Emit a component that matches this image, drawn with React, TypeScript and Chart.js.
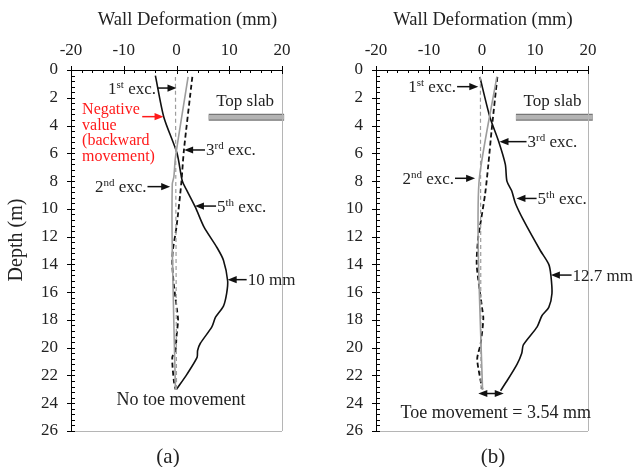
import React, { useEffect, useRef } from 'react';
import { Chart, registerables } from 'chart.js';
Chart.register(...registerables);

const FONT = '"Liberation Serif", "Times New Roman", serif';

// ---- axis ticks ----
const X_TICKS = [-20, -10, 0, 10, 20];
const DEPTH_TICKS = [0, 2, 4, 6, 8, 10, 12, 14, 16, 18, 20, 22, 24, 26];

// ---- panel (a) ----
const A_1ST_DEPTH = [0.5, 23.0];
const A_1ST_DEF = [-0.2, 0.0];
const A_2ND_DEPTH = [0.5, 6.3, 7.7, 8.2, 13.0, 23.0];
const A_2ND_DEF = [2.2, -0.2, -0.5, -0.8, -0.8, -0.2];
const A_3RD_DEPTH = [0.5, 5.8, 8.2, 11.3, 13.0, 14.0, 15.5, 17.3, 18.0, 19.2, 20.2, 20.7, 22.4, 23.0];
const A_3RD_DEF = [3.0, 1.4, 0.9, 0.0, -0.7, -0.8, -0.5, 0.1, 0.3, 0.0, -0.2, -0.8, -0.5, -0.2];
const A_5TH_DEPTH = [0.4, 3.4, 6.0, 8.0, 8.7, 9.9, 11.3, 12.8, 13.7, 15.2, 16.1, 17.0, 17.8, 18.5, 19.7, 20.2, 20.7, 21.9, 23.0];
const A_5TH_DEF = [-4.0, -2.4, 0.1, 1.1, 2.0, 3.6, 5.2, 7.7, 8.9, 9.7, 9.5, 8.9, 7.4, 6.7, 4.5, 4.0, 3.9, 2.0, 0.0];
const A_SLAB_X = [6.1, 20.4];

// ---- panel (b) ----
const B_1ST_DEPTH = [0.5, 23.0];
const B_1ST_DEF = [-0.3, -0.2];
const B_2ND_DEPTH = [0.5, 7.8, 13.0, 23.0];
const B_2ND_DEF = [2.8, -0.5, -0.7, 0.1];
const B_3RD_DEPTH = [0.5, 4.4, 6.8, 8.9, 11.3, 12.0, 14.0, 17.1, 17.9, 19.7, 20.8, 22.4, 23.0];
const B_3RD_DEF = [2.9, 1.8, 1.2, 0.6, -0.4, -0.7, -1.0, 0.0, 0.25, -0.25, -0.9, -0.25, 0.1];
const B_5TH_DEPTH = [0.5, 3.4, 5.1, 6.8, 8.0, 8.7, 9.6, 10.8, 13.0, 14.0, 14.8, 16.1, 17.1, 17.7, 18.5, 19.8, 20.4, 21.2, 22.4, 23.1];
const B_5TH_DEF = [-0.4, 1.5, 3.1, 4.4, 4.7, 5.6, 6.3, 7.8, 11.0, 12.6, 13.0, 13.2, 12.6, 11.3, 10.4, 7.8, 7.5, 6.6, 4.7, 3.5];
const B_SLAB_X = [6.4, 20.9];

const SLAB_DEPTH = 3.4;

const GRAY = '#9d9d9d';
const RED = '#ff1a1a';

type Ann =
  | { kind: 'arrow'; tip: [number, number]; tailX: number; color?: string; label?: string; ord?: string; sup?: string; side?: 'left' | 'right' }
  | { kind: 'double'; from: [number, number]; toX: number }
  | { kind: 'text'; at: [number, number]; lines: string[]; color?: string; size: number; align: CanvasTextAlign; lh?: number };

const A_ANN: Ann[] = [
  { kind: 'arrow', tip: [0, 1.3], tailX: -3.7, ord: '1', sup: 'st', side: 'left' },
  { kind: 'arrow', tip: [-2.45, 3.36], tailX: -6.5, color: RED },
  { kind: 'text', at: [-17.9, 2.9], lines: ['Negative', 'value', '(backward', 'movement)'], color: RED, size: 16, align: 'left', lh: 15.5 },
  { kind: 'arrow', tip: [1.45, 5.76], tailX: 5.4, ord: '3', sup: 'rd', side: 'right' },
  { kind: 'arrow', tip: [-1.2, 8.4], tailX: -5.5, ord: '2', sup: 'nd', side: 'left' },
  { kind: 'arrow', tip: [3.5, 9.8], tailX: 7.5, ord: '5', sup: 'th', side: 'right' },
  { kind: 'arrow', tip: [9.7, 15.1], tailX: 13.3, label: '10 mm', side: 'right' },
  { kind: 'text', at: [13.0, 2.28], lines: ['Top slab'], size: 17, align: 'center' },
  { kind: 'text', at: [0.85, 23.8], lines: ['No toe movement'], size: 18, align: 'center' },
];

const B_ANN: Ann[] = [
  { kind: 'arrow', tip: [-0.7, 1.2], tailX: -4.7, ord: '1', sup: 'st', side: 'left' },
  { kind: 'arrow', tip: [3.3, 5.16], tailX: 8.4, ord: '3', sup: 'rd', side: 'right' },
  { kind: 'arrow', tip: [-1.3, 7.8], tailX: -5.1, ord: '2', sup: 'nd', side: 'left' },
  { kind: 'arrow', tip: [6.5, 9.25], tailX: 10.3, ord: '5', sup: 'th', side: 'right' },
  { kind: 'arrow', tip: [13.0, 14.77], tailX: 16.9, label: '12.7 mm', side: 'right' },
  { kind: 'double', from: [-0.7, 23.3], toX: 4.1 },
  { kind: 'text', at: [13.3, 2.28], lines: ['Top slab'], size: 17, align: 'center' },
  { kind: 'text', at: [2.6, 24.7], lines: ['Toe movement = 3.54 mm'], size: 18, align: 'center' },
];

function mk(depth: number[], def: number[]) {
  return depth.map((d, i) => ({ x: def[i], y: d }));
}

function head(ctx: CanvasRenderingContext2D, tx: number, ty: number, dir: number, color: string) {
  const L = 9, H = 3.6;
  ctx.fillStyle = color;
  ctx.beginPath();
  ctx.moveTo(tx, ty);
  ctx.lineTo(tx - dir * L, ty - H);
  ctx.lineTo(tx - dir * L, ty + H);
  ctx.closePath();
  ctx.fill();
}

function makePlugin(cfg: any) {
  return {
    id: 'decor',
    afterDraw(chart: any) {
      const ctx: CanvasRenderingContext2D = chart.ctx;
      const xs = chart.scales.x, ys = chart.scales.y;
      const ca = chart.chartArea;
      ctx.save();
      // right & bottom light borders
      ctx.strokeStyle = '#b5b5b5';
      ctx.lineWidth = 1;
      ctx.beginPath();
      ctx.moveTo(Math.round(ca.right) + 0.5, ca.top);
      ctx.lineTo(Math.round(ca.right) + 0.5, ca.bottom);
      ctx.moveTo(ca.left, Math.round(ca.bottom) + 0.5);
      ctx.lineTo(ca.right, Math.round(ca.bottom) + 0.5);
      ctx.stroke();
      // tick marks
      ctx.strokeStyle = '#000';
      ctx.lineWidth = 1;
      ctx.beginPath();
      for (let v = -20; v <= 20; v += 2) {
        const px = Math.round(xs.getPixelForValue(v)) + 0.5;
        const major = X_TICKS.includes(v);
        ctx.moveTo(px, ca.top - (major ? 4 : 0));
        ctx.lineTo(px, ca.top + (major ? 4 : 3));
      }
      for (let i = 0; i <= 65; i++) {
        const v = i * 0.4;
        const py = Math.round(ys.getPixelForValue(v)) + 0.5;
        const major = i % 5 === 0;
        ctx.moveTo(ca.left - (major ? 4 : 0), py);
        ctx.lineTo(ca.left + 4, py);
      }
      ctx.stroke();
      // titles
      ctx.fillStyle = '#222';
      ctx.font = `18.5px ${FONT}`;
      ctx.textAlign = 'center';
      ctx.textBaseline = 'middle';
      ctx.fillText('Wall Deformation (mm)', (ca.left + ca.right) / 2 + cfg.titleDx, 20);
      ctx.font = `21px ${FONT}`;
      ctx.fillText(cfg.panel, cfg.panelX, 457);
      if (cfg.ylabel) {
        ctx.save();
        ctx.translate(17, 240);
        ctx.rotate(-Math.PI / 2);
        ctx.font = `20px ${FONT}`;
        ctx.fillText('Depth (m)', 0, 0);
        ctx.restore();
      }
      // annotations
      for (const a of cfg.ann as Ann[]) {
        if (a.kind === 'arrow') {
          const color = a.color || '#111';
          const tx = xs.getPixelForValue(a.tip[0]);
          const ty = ys.getPixelForValue(a.tip[1]);
          const sx = xs.getPixelForValue(a.tailX);
          const dir = tx > sx ? 1 : -1;
          ctx.strokeStyle = color;
          ctx.lineWidth = 1.5;
          ctx.beginPath();
          ctx.moveTo(sx, ty);
          ctx.lineTo(tx - dir * 8, ty);
          ctx.stroke();
          head(ctx, tx, ty, dir, color);
          ctx.fillStyle = '#222';
          ctx.textBaseline = 'alphabetic';
          ctx.textAlign = 'left';
          const base = ty + 5.5;
          if (a.ord) {
            ctx.font = `17px ${FONT}`;
            const w1 = ctx.measureText(a.ord).width;
            const w3 = ctx.measureText(' exc.').width;
            ctx.font = `11px ${FONT}`;
            const w2 = ctx.measureText(a.sup!).width;
            const total = w1 + w2 + w3;
            const x0 = a.side === 'left' ? sx - 1 - total : sx + 1;
            ctx.font = `17px ${FONT}`;
            ctx.fillText(a.ord, x0, base);
            ctx.font = `11px ${FONT}`;
            ctx.fillText(a.sup!, x0 + w1, base - 6);
            ctx.font = `17px ${FONT}`;
            ctx.fillText(' exc.', x0 + w1 + w2, base);
          } else if (a.label) {
            ctx.font = `17px ${FONT}`;
            ctx.fillText(a.label, sx + 1, base);
          }
        } else if (a.kind === 'double') {
          const x1 = xs.getPixelForValue(a.from[0]);
          const x2 = xs.getPixelForValue(a.toX);
          const y = ys.getPixelForValue(a.from[1]);
          ctx.strokeStyle = '#111';
          ctx.lineWidth = 1.5;
          ctx.beginPath();
          ctx.moveTo(x1 + 8, y);
          ctx.lineTo(x2 - 8, y);
          ctx.stroke();
          head(ctx, x1, y, -1, '#111');
          head(ctx, x2, y, 1, '#111');
        } else {
          const x = xs.getPixelForValue(a.at[0]);
          const y = ys.getPixelForValue(a.at[1]);
          ctx.fillStyle = a.color || '#222';
          ctx.font = `${a.size}px ${FONT}`;
          ctx.textAlign = a.align;
          ctx.textBaseline = 'middle';
          a.lines.forEach((ln, i) => ctx.fillText(ln, x, y + i * (a.lh || 0)));
        }
      }
      ctx.restore();
    },
  };
}

function buildConfig(cfg: any) {
  const series = [
    { data: mk(cfg.d1, cfg.v1), color: GRAY, width: 1.2, dash: [4, 3] },
    { data: mk(cfg.d2, cfg.v2), color: GRAY, width: 1.6, dash: [] },
    { data: mk(cfg.d3, cfg.v3), color: '#111', width: 1.8, dash: [5, 3] },
    { data: mk(cfg.d5, cfg.v5), color: '#111', width: 1.6, dash: [] },
  ];
  const slab = cfg.slab.map((x: number) => ({ x, y: SLAB_DEPTH }));
  const datasets: any[] = [
    ...series.map((s) => ({
      type: 'line', data: s.data, borderColor: s.color, borderWidth: s.width, borderDash: s.dash,
      pointRadius: 0, tension: 0.25, fill: false,
    })),
    // Chart.js paints lower-index datasets on top, so the light fill comes first
    { type: 'line', data: slab, borderColor: '#b3b3b3', borderWidth: 4.5, pointRadius: 0, borderCapStyle: 'butt', clip: false },
    { type: 'line', data: slab, borderColor: '#767676', borderWidth: 7, pointRadius: 0, borderCapStyle: 'butt', clip: false },
  ];
  const tickFont = { family: FONT, size: 17 };
  return {
    type: 'line',
    data: { datasets },
    options: {
      animation: false,
      responsive: false,
      events: [],
      layout: { padding: { left: 0, right: cfg.padRight, top: 0, bottom: 36 } },
      plugins: { legend: { display: false }, tooltip: { enabled: false } },
      scales: {
        x: {
          type: 'linear', position: 'top', min: -20, max: 20,
          afterFit: (s: any) => { s.height = 70; },
          afterBuildTicks: (s: any) => { s.ticks = X_TICKS.map((v) => ({ value: v })); },
          ticks: { font: tickFont, color: '#222', padding: 9, maxRotation: 0, autoSkip: false },
          grid: { display: false, drawTicks: false },
          border: { display: true, color: '#000', width: 1 },
        },
        y: {
          type: 'linear', min: 0, max: 26, reverse: true,
          afterFit: (s: any) => { s.width = cfg.yWidth; },
          afterBuildTicks: (s: any) => { s.ticks = DEPTH_TICKS.map((v) => ({ value: v })); },
          ticks: { font: tickFont, color: '#222', padding: 13, autoSkip: false },
          grid: { display: false, drawTicks: false },
          border: { display: true, color: '#000', width: 1 },
        },
      },
    },
    plugins: [makePlugin(cfg)],
  };
}

const PANEL_A = {
  d1: A_1ST_DEPTH, v1: A_1ST_DEF, d2: A_2ND_DEPTH, v2: A_2ND_DEF, d3: A_3RD_DEPTH, v3: A_3RD_DEF, d5: A_5TH_DEPTH, v5: A_5TH_DEF,
  slab: A_SLAB_X, ann: A_ANN, padRight: 34, yWidth: 71, titleDx: 11, panel: '(a)', panelX: 168, ylabel: true,
};
const PANEL_B = {
  d1: B_1ST_DEPTH, v1: B_1ST_DEF, d2: B_2ND_DEPTH, v2: B_2ND_DEF, d3: B_3RD_DEPTH, v3: B_3RD_DEF, d5: B_5TH_DEPTH, v5: B_5TH_DEF,
  slab: B_SLAB_X, ann: B_ANN, padRight: 45, yWidth: 60, titleDx: 1, panel: '(b)', panelX: 177, ylabel: false,
};

function Panel({ cfg, left, width }: { cfg: any; left: number; width: number }) {
  const ref = useRef<HTMLCanvasElement | null>(null);
  useEffect(() => {
    const chart = new Chart(ref.current!, buildConfig(cfg) as any);
    return () => chart.destroy();
  }, []);
  return (
    <canvas ref={ref} width={width} height={467}
      style={{ position: 'absolute', left, top: 0, width, height: 467 }} />
  );
}

export default function App() {
  return (
    <div style={{ position: 'fixed', left: 0, top: 0, width: 633, height: 467, background: '#fff', overflow: 'hidden' }}>
      <Panel cfg={PANEL_A} left={0} width={316} />
      <Panel cfg={PANEL_B} left={316} width={317} />
    </div>
  );
}
